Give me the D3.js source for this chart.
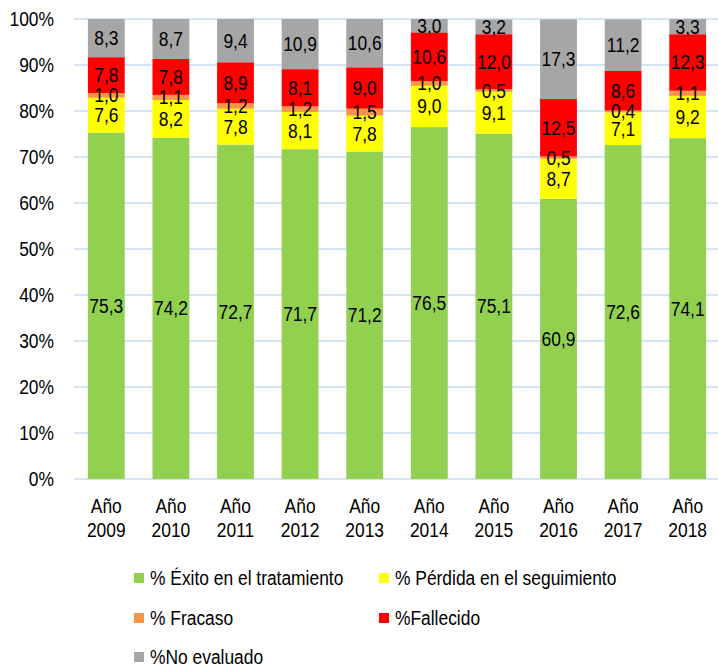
<!DOCTYPE html>
<html><head><meta charset="utf-8">
<script src="https://cdn.jsdelivr.net/npm/d3@7"></script>
<style>
body{margin:0;background:#fff;}
text{font-family:"Liberation Sans",Arial,sans-serif;fill:#000;font-size:20px;}
</style></head><body>
<svg id="c" width="718" height="667"></svg>
<script>
const years = ["2009","2010","2011","2012","2013","2014","2015","2016","2017","2018"];
const seriesNames = ["% Éxito en el tratamiento","% Pérdida en el seguimiento","% Fracaso","%Fallecido","%No evaluado"];
const exito    = [75.3,74.2,72.7,71.7,71.2,76.5,75.1,60.9,72.6,74.1];
const perdida  = [7.6,8.2,7.8,8.1,7.8,9.0,9.1,8.7,7.1,9.2];
const fracaso  = [1.0,1.1,1.2,1.2,1.5,1.0,0.5,0.5,0.4,1.1];
const fallecido= [7.8,7.8,8.9,8.1,9.0,10.6,12.0,12.5,8.6,12.3];
const noEval   = [8.3,8.7,9.4,10.9,10.6,3.0,3.2,17.3,11.2,3.3];
const colors = ["#92d050","#ffff00","#f79646","#ff0000","#a6a6a6"];
const yTicks = [0,10,20,30,40,50,60,70,80,90,100];

const SX = 0.87;
const svg = d3.select("#c");
const pLeft=74, pRight=720, pTop=19, pBottom=479;
const x = d3.scaleBand().domain(years).range([pLeft,pRight]).paddingInner(0.43).paddingOuter(0.215);
const y = d3.scaleLinear().domain([0,100]).range([pBottom,pTop]);
const tr = (px,py)=>`translate(${px},${py}) scale(${SX},1)`;

// gridlines
svg.append("g").selectAll("line").data(yTicks).join("line")
  .attr("x1",pLeft).attr("x2",718).attr("y1",d=>y(d)).attr("y2",d=>y(d))
  .attr("stroke","#c5dcf2").attr("stroke-width",1.5);

// y labels
svg.append("g").selectAll("text").data(yTicks).join("text")
  .attr("transform",d=>tr(54,y(d))).attr("dy","0.35em").attr("text-anchor","end")
  .text(d=>d+"%");

const all=[exito,perdida,fracaso,fallecido,noEval];
const rows = years.map((yr,i)=>{const o={year:yr}; seriesNames.forEach((s,k)=>o[s]=all[k][i]); return o;});
const stack = d3.stack().keys(seriesNames)(rows);

const fmt = v=>v.toFixed(1).replace(".",",");
stack.forEach((layer,k)=>{
  svg.append("g").selectAll("rect").data(layer).join("rect")
    .attr("x",d=>x(d.data.year)).attr("width",x.bandwidth())
    .attr("y",d=>y(Math.min(d[1],100))).attr("height",d=>y(d[0])-y(Math.min(d[1],100)))
    .attr("fill",colors[k]);
});
stack.forEach((layer,k)=>{
  svg.append("g").selectAll("text").data(layer).join("text")
    .attr("transform",d=>tr(x(d.data.year)+x.bandwidth()/2, y((d[0]+Math.min(d[1],100))/2)))
    .attr("dy","0.35em").attr("text-anchor","middle")
    .text(d=>fmt(all[k][years.indexOf(d.data.year)]));
});

// x labels
const xl=svg.append("g").selectAll("text").data(years).join("text")
  .attr("transform",d=>tr(x(d)+x.bandwidth()/2,0)).attr("text-anchor","middle");
xl.append("tspan").attr("x",0).attr("y",513).text("Año");
xl.append("tspan").attr("x",0).attr("y",537).text(d=>d);

// legend
const legPos=[[134,578],[379,578],[134,618],[379,618],[134,657]];
const lg=svg.append("g").selectAll("g").data(seriesNames).join("g")
  .attr("transform",(d,i)=>`translate(${legPos[i][0]},${legPos[i][1]})`);
lg.append("rect").attr("x",0).attr("y",-5).attr("width",10).attr("height",10).attr("fill",(d,i)=>colors[i]);
lg.append("text").attr("transform",tr(16,0)).attr("dy","0.35em").text(d=>d);
</script>
</body></html>
